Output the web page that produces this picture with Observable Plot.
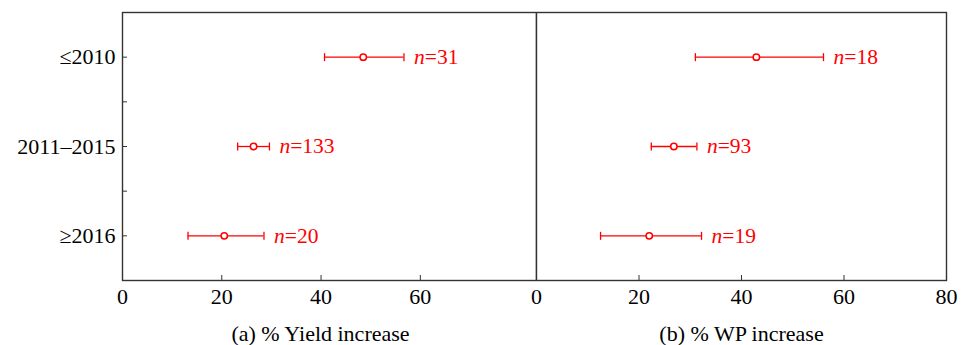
<!DOCTYPE html>
<html><head><meta charset="utf-8">
<script src="https://cdn.jsdelivr.net/npm/d3@7"></script>
<script src="https://cdn.jsdelivr.net/npm/@observablehq/plot@0.6"></script>
<style>
body{margin:0;background:#fff;}
#chart{display:flex;width:964px;height:345px;}
#chart svg{overflow:visible;}
</style></head><body><div id="chart"></div>
<script>
const categories = ["≤2010", "2011–2015", "≥2016"];
const yieldMean = [48.5, 26.4, 20.5];
const yieldLow = [40.7, 23.2, 13.2];
const yieldHigh = [56.7, 29.6, 28.5];
const yieldN = [31, 133, 20];
const wpMean = [42.9, 26.8, 22.0];
const wpLow = [31.0, 22.4, 12.5];
const wpHigh = [56.0, 31.3, 32.2];
const wpN = [18, 93, 19];
const yieldTicks = [0, 20, 40, 60];
const wpTicks = [0, 20, 40, 60, 80];
const panelTitles = ["(a) % Yield increase", "(b) % WP increase"];

const RED = "#ff0000";
const FRAME = "#333333";
const FONT = "'Liberation Serif', 'Times New Roman', serif";
const capSymbol = {draw(ctx, size) { const h = Math.sqrt(size / Math.PI); ctx.moveTo(0, -h); ctx.lineTo(0, h); }};

function rows(mean, low, high, n) {
  return categories.map((c, i) => ({i, cat: c, mean: mean[i], low: low[i], high: high[i], n: n[i]}));
}

function dataMarks(data) {
  return [
    Plot.ruleY(data, {y: "i", x1: "low", x2: "high", stroke: RED, strokeWidth: 1.3}),
    Plot.dot(data, {x: "low", y: "i", symbol: capSymbol, r: 4, stroke: RED, strokeWidth: 1.3}),
    Plot.dot(data, {x: "high", y: "i", symbol: capSymbol, r: 4, stroke: RED, strokeWidth: 1.3}),
    Plot.dot(data, {x: "mean", y: "i", r: 3.2, fill: "white", stroke: RED, strokeWidth: 1.5}),
    Plot.text(data, {x: "high", y: "i", text: () => "n", fontStyle: "italic", fontSize: 21.5, dx: 10, textAnchor: "start", fill: RED}),
    Plot.text(data, {x: "high", y: "i", text: d => "=" + d.n, fontSize: 21.5, dx: 20.8, textAnchor: "start", fill: RED})
  ];
}

const common = {
  height: 345, marginTop: 12, marginBottom: 65,
  style: {fontFamily: FONT, fontSize: "22px", color: "black", background: "white"}
};

const left = Plot.plot({
  ...common,
  width: 536, marginLeft: 122, marginRight: 0,
  x: {domain: [0, 83.4]},
  y: {domain: [-0.5, 2.5], reverse: true},
  marks: [
    Plot.frame({stroke: FRAME, strokeWidth: 1.4}),
    Plot.axisX({ticks: yieldTicks, tickSize: -5, tickPadding: 12.5, stroke: FRAME, label: null}),
    Plot.axisY({ticks: [0, 1, 2], tickSize: -5, tickPadding: 12, tickFormat: i => categories[i], stroke: FRAME, label: null}),
    Plot.axisY({ticks: [0.5, 1.5], tickSize: -5, tickFormat: () => "", stroke: FRAME, label: null}),
    ...dataMarks(rows(yieldMean, yieldLow, yieldHigh, yieldN)),
    Plot.text([panelTitles[0]], {frameAnchor: "bottom", dy: 53, dx: -9, lineAnchor: "middle", fill: "black"})
  ]
});

const right = Plot.plot({
  ...common,
  width: 428, marginLeft: 0, marginRight: 18,
  x: {domain: [0, 80]},
  y: {domain: [-0.5, 2.5], reverse: true, axis: null},
  marks: [
    Plot.frame({stroke: FRAME, strokeWidth: 1.4}),
    Plot.axisX({ticks: wpTicks, tickSize: -5, tickPadding: 12.5, stroke: FRAME, label: null}),
    ...dataMarks(rows(wpMean, wpLow, wpHigh, wpN)),
    Plot.text([panelTitles[1]], {frameAnchor: "bottom", dy: 53, lineAnchor: "middle", fill: "black"})
  ]
});

document.getElementById("chart").append(left, right);
</script></body></html>
